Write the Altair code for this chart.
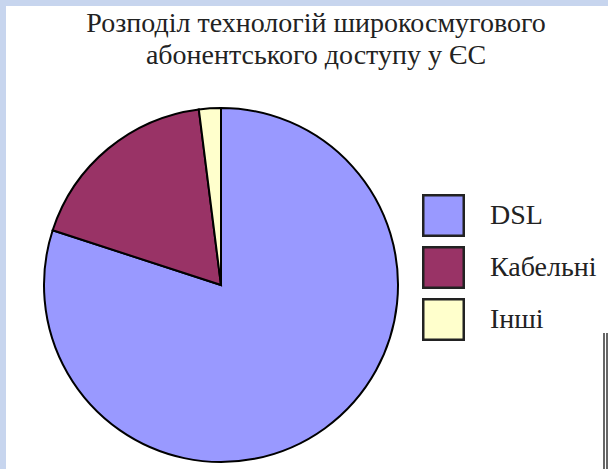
import altair as alt
import pandas as pd

TITLE_LINES = ["Розподіл технологій широкосмугового", "абонентського доступу у ЄС"]
CATEGORIES = ["DSL", "Кабельні", "Інші"]
SHARES = [80, 18, 2]
COLORS = ["#9999ff", "#993366", "#ffffcc"]

SERIF = "Liberation Serif"

df = pd.DataFrame({"tech": CATEGORIES, "share": SHARES, "order": list(range(len(CATEGORIES)))})

bg = alt.Chart(pd.DataFrame({"a": [0]})).mark_rect(fill="white").encode(
    x=alt.value(6), x2=alt.value(608), y=alt.value(6), y2=alt.value(469)
)

pie = alt.Chart(df).mark_arc(radius=177, stroke="black", strokeWidth=2).encode(
    theta=alt.Theta("share:Q", stack=True),
    color=alt.Color(
        "tech:N",
        sort=CATEGORIES,
        scale=alt.Scale(domain=CATEGORIES, range=COLORS),
        legend=alt.Legend(
            title=None,
            orient="none",
            legendX=422,
            legendY=194,
            symbolType="square",
            symbolSize=1640,
            symbolStrokeColor="#222222",
            symbolStrokeWidth=2.5,
            symbolOpacity=1,
            labelFont=SERIF,
            labelFontSize=28,
            labelColor="#222222",
            labelOffset=25,
            rowPadding=1,
        ),
    ),
    order=alt.Order("order:Q"),
    x=alt.value(221),
    y=alt.value(285),
)

title = alt.Chart(pd.DataFrame({"a": [0]})).mark_text(
    text=TITLE_LINES,
    font=SERIF,
    fontSize=28,
    lineHeight=32,
    baseline="alphabetic",
    align="center",
    color="#222222",
).encode(x=alt.value(316), y=alt.value(32))

artifact = alt.Chart(pd.DataFrame({"a": [0]})).mark_rule(color="black", strokeWidth=1.2).encode(
    x=alt.value(604), y=alt.value(333), y2=alt.value(469)
)
artifact2 = alt.Chart(pd.DataFrame({"a": [0]})).mark_rule(color="black", strokeWidth=1.2).encode(
    x=alt.value(607), y=alt.value(333), y2=alt.value(469)
)

chart = alt.layer(bg, pie, title, artifact, artifact2).properties(
    width=608,
    height=469,
    background="#c7d5ee",
    padding=0,
    autosize=alt.AutoSizeParams(type="none"),
).configure_view(stroke=None)

chart.save("out.html", embed_options={"renderer": "svg", "actions": False})
